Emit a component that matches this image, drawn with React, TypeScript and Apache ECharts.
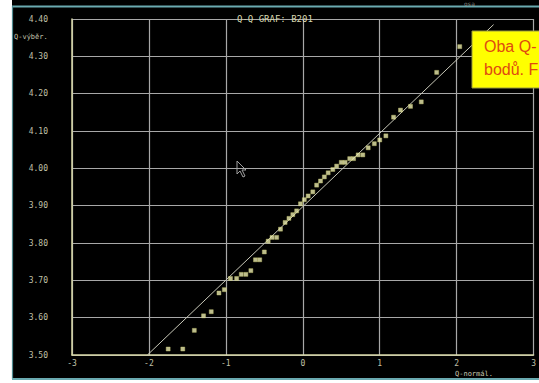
import React, { useEffect, useRef } from "react";
import * as echarts from "echarts";

// Normal quantiles (x) against sample quantiles (y)
const normalQuantiles = [
  -1.75, -1.56, -1.41, -1.29, -1.19, -1.09, -1.02, -0.94, -0.86, -0.8,
  -0.74, -0.675, -0.615, -0.56, -0.5, -0.45, -0.4, -0.34, -0.29, -0.23,
  -0.18, -0.13, -0.08, -0.03, 0.02, 0.07, 0.13, 0.18, 0.23, 0.28,
  0.33, 0.39, 0.44, 0.5, 0.55, 0.61, 0.66, 0.72, 0.78, 0.85,
  0.93, 1.0, 1.08, 1.18, 1.27, 1.4, 1.54, 1.74, 2.04,
];
const sampleQuantiles = [
  3.516, 3.516, 3.566, 3.605, 3.616, 3.666, 3.675, 3.705, 3.705, 3.716,
  3.716, 3.726, 3.755, 3.755, 3.776, 3.805, 3.815, 3.815, 3.837, 3.855,
  3.866, 3.876, 3.886, 3.905, 3.916, 3.926, 3.937, 3.955, 3.966, 3.977,
  3.988, 3.997, 4.006, 4.016, 4.016, 4.026, 4.026, 4.036, 4.036, 4.055,
  4.066, 4.076, 4.087, 4.137, 4.156, 4.166, 4.178, 4.257, 4.326,
];
// Reference line end points (x, y)
const refLineX = [-2.02, 2.48];
const refLineY = [3.5, 4.385];

const xTicks = [-3, -2, -1, 0, 1, 2, 3];
const yTicks = ["3.50", "3.60", "3.70", "3.80", "3.90", "4.00", "4.10", "4.20", "4.30", "4.40"];

const MONO = "'DejaVu Sans Mono', 'Liberation Mono', monospace";

export default function App() {
  const ref = useRef<HTMLDivElement>(null);

  useEffect(() => {
    if (!ref.current) return;
    const chart = echarts.init(ref.current, null, { renderer: "svg" });
    const points = normalQuantiles.map((x, i) => [x, sampleQuantiles[i]]);
    const line = refLineX.map((x, i) => [x, refLineY[i]]);

    chart.setOption({
      animation: false,
      backgroundColor: "#ffffff",
      title: {
        text: "Q-Q GRAF: B201",
        left: 232,
        top: 9,
        textStyle: { fontFamily: MONO, fontSize: 9, fontWeight: "normal", color: "#d8d8b0" },
      },
      grid: { left: 72, top: 19, right: 3, bottom: 28, show: false },
      xAxis: {
        type: "value",
        min: -3,
        max: 3,
        interval: 1,
        axisLine: { show: true, onZero: false, lineStyle: { color: "#d8d8a8", width: 1.5 } },
        axisTick: { show: false },
        splitLine: { show: true, lineStyle: { color: "#a8a8a8", width: 1.2 } },
        axisLabel: {
          margin: 4,
          fontFamily: MONO,
          fontSize: 8,
          color: "#c0c0a8",
          formatter: (v: number) => (xTicks.includes(v) ? String(v) : ""),
        },
      },
      yAxis: {
        type: "value",
        min: 3.5,
        max: 4.4,
        interval: 0.1,
        axisLine: { show: true, onZero: false, lineStyle: { color: "#d8d8a8", width: 1.5 } },
        axisTick: { show: false },
        splitLine: { show: true, lineStyle: { color: "#a8a8a8", width: 1.2 } },
        axisLabel: {
          margin: 24,
          fontFamily: MONO,
          fontSize: 8,
          color: "#c0c0a8",
          formatter: (v: number) => yTicks[Math.round((v - 3.5) * 10)] ?? "",
        },
      },
      graphic: [
        // screen frame
        { type: "rect", z: -10, shape: { x: 12, y: 0, width: 540, height: 379 }, style: { fill: "#000000" } },
        { type: "line", z: -9, shape: { x1: 12, y1: 6.5, x2: 539, y2: 6.5 }, style: { stroke: "#6aaab0", lineWidth: 2 } },
        { type: "line", z: -9, shape: { x1: 12.5, y1: 6, x2: 12.5, y2: 379 }, style: { stroke: "#4f8a90", lineWidth: 1.2 } },
        { type: "line", z: -9, shape: { x1: 12, y1: 379, x2: 539, y2: 379 }, style: { stroke: "#6aaab0", lineWidth: 2 } },
        { type: "text", z: -8, style: { text: "osa", x: 464, y: 0, font: `6px ${MONO}`, fill: "#8a8a80" } },
        // axis names
        { type: "text", style: { text: "Q-výběr.", x: 14, y: 33, font: `7px ${MONO}`, fill: "#c8c8b0" } },
        { type: "text", style: { text: "Q-normál.", x: 455, y: 370, font: `7px ${MONO}`, fill: "#c8c8b0" } },
        // mouse pointer
        {
          type: "polygon",
          shape: { points: [[237, 161], [237, 174], [240, 171], [243, 177], [245, 176], [242, 170], [246, 170]] },
          style: { fill: "#000000", stroke: "#a0a0a0", lineWidth: 1 },
        },
        // yellow note
        { type: "rect", z: 20, shape: { x: 472, y: 31, width: 80, height: 57 }, style: { fill: "#ffff00", stroke: "#9a9a40", lineWidth: 1 } },
        { type: "text", z: 21, style: { text: "Oba Q-", x: 484, y: 38, font: "16px 'Liberation Sans', Arial, sans-serif", fill: "#e04a10" } },
        { type: "text", z: 21, style: { text: "bodů. F", x: 484, y: 61, font: "16px 'Liberation Sans', Arial, sans-serif", fill: "#e04a10" } },
      ],
      series: [
        {
          type: "line",
          data: line,
          symbol: "none",
          silent: true,
          lineStyle: { color: "#c8c8b8", width: 1 },
          z: 3,
        },
        {
          type: "scatter",
          data: points,
          symbol: "rect",
          symbolSize: 4,
          itemStyle: { color: "#ececb0", borderColor: "#c8c870", borderWidth: 0.5 },
          z: 4,
        },
      ],
    });
    return () => chart.dispose();
  }, []);

  return (
    <div
      ref={ref}
      style={{ position: "absolute", left: 0, top: 0, width: 539, height: 383 }}
    />
  );
}
